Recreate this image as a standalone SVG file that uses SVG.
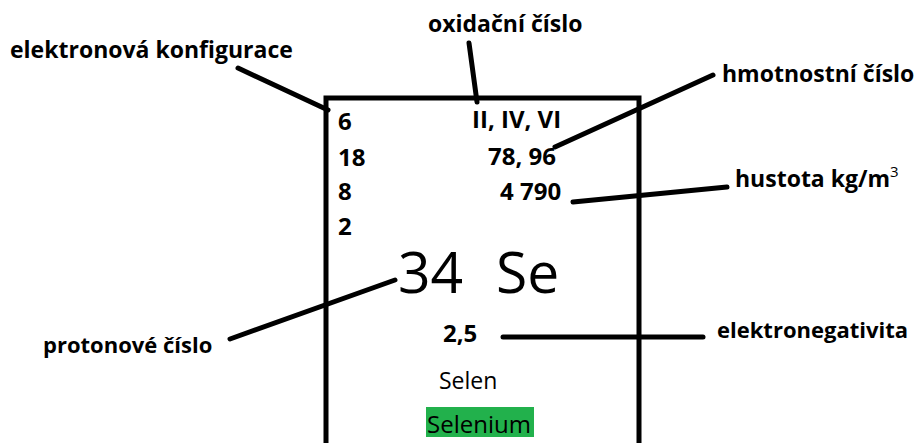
<svg xmlns="http://www.w3.org/2000/svg" width="924" height="443" viewBox="0 0 924 443">
<style>
.b{font-family:"Open Sans",Lato,"Liberation Sans",sans-serif;font-weight:bold;font-size:23px;fill:#000}
.n{font-family:"Open Sans",Lato,"Liberation Sans",sans-serif;font-weight:bold;font-size:24px;fill:#000}
.r{font-family:"Open Sans",Lato,"Liberation Sans",sans-serif;font-weight:normal;font-size:23px;fill:#000}
.big{font-family:"Open Sans",Lato,"Liberation Sans",sans-serif;font-weight:normal;font-size:57px;fill:#000}
.ln{stroke:#000;stroke-width:5;stroke-linecap:round;fill:none}
</style>
<rect width="924" height="443" fill="#fff"/>
<g id="element-box">
<path d="M326 450 V98 H639 V450" fill="none" stroke="#000" stroke-width="5"/>
</g>
<g id="connectors">
<line class="ln" x1="238" y1="68" x2="328" y2="110"/>
<line class="ln" x1="469" y1="43" x2="477" y2="102"/>
<line class="ln" x1="713" y1="75" x2="555" y2="147"/>
<line class="ln" x1="727" y1="187" x2="573" y2="202"/>
<line class="ln" x1="230" y1="339" x2="395" y2="280"/>
<line class="ln" x1="503" y1="337" x2="703" y2="337"/>
</g>
<g id="label-elektronova-konfigurace"><text class="b" x="10" y="58">elektronová konfigurace</text></g>
<g id="label-oxidacni-cislo"><text class="b" x="428" y="32">oxidační číslo</text></g>
<g id="label-hmotnostni-cislo"><text class="b" x="722" y="82">hmotnostní číslo</text></g>
<g id="label-hustota"><text class="b" x="735" y="187">hustota kg/m<tspan style="font-size:15px;font-weight:normal" dy="-10">3</tspan></text></g>
<g id="label-protonove-cislo"><text class="b" x="43" y="353" style="font-size:22px">protonové číslo</text></g>
<g id="label-elektronegativita"><text class="b" x="717" y="338" style="font-size:22px">elektronegativita</text></g>
<g id="config">
<text class="n" x="338" y="130">6</text>
<text class="n" x="338" y="166">18</text>
<text class="n" x="338" y="200">8</text>
<text class="n" x="338" y="235">2</text>
</g>
<g id="oxidation"><text class="n" x="472" y="128">II, IV, VI</text></g>
<g id="mass"><text class="n" x="488" y="165">78, 96</text></g>
<g id="density"><text class="n" x="500" y="200">4 790</text></g>
<g id="symbol"><text class="big" x="398" y="293">34</text><text class="big" x="496" y="293">Se</text></g>
<g id="electronegativity"><text class="n" x="443" y="342">2,5</text></g>
<g id="name-cz"><text class="r" x="439" y="389">Selen</text></g>
<g id="name-latin"><rect x="426" y="407" width="108" height="30" fill="#22b14c"/><text class="r" x="427" y="433" style="font-size:24px">Selenium</text></g>
</svg>
